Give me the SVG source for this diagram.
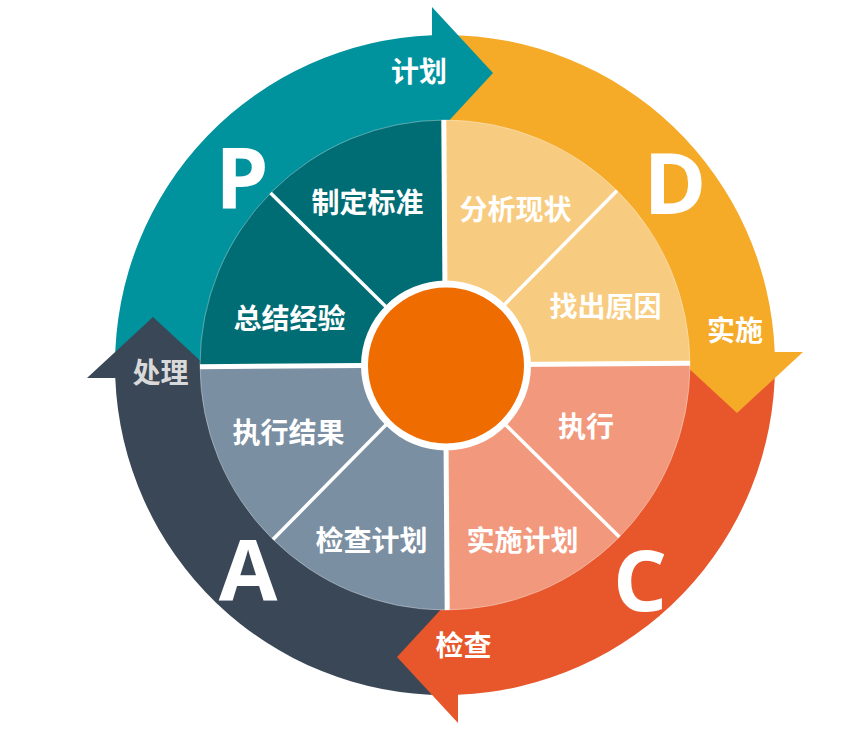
<svg xmlns="http://www.w3.org/2000/svg" width="857" height="735" viewBox="0 0 857 735">
<defs>
<style>
.t{font-family:"Noto Sans CJK SC","Noto Sans",sans-serif;font-weight:700;font-size:28px;fill:#fff;text-anchor:middle}
.big{font-family:"Open Sans","Noto Sans",sans-serif;font-weight:700;font-size:85px;fill:#fff;text-anchor:middle}
.sep{stroke:#fff;fill:none}
</style>
<path id="shaft" d="M -330 0 A 330 330 0 0 1 -13 -329.74 L -13 -239.65 A 240 240 0 0 0 -240 0 Z"/>
<path id="head" d="M -13 -358 L 48 -292 L -13 -226 Z"/>
<clipPath id="pieclip"><circle r="245"/></clipPath>
</defs>
<rect width="857" height="735" fill="#fff"/>
<g id="connectors" transform="translate(445,365)">
<use href="#shaft" fill="#00939E"/>
<use href="#shaft" fill="#F5AA28" transform="rotate(90)"/>
<use href="#shaft" fill="#E8562C" transform="rotate(180)"/>
<use href="#shaft" fill="#3A4756" transform="rotate(270)"/>
<use href="#head" fill="#00939E"/>
<use href="#head" fill="#F5AA28" transform="rotate(90)"/>
<use href="#head" fill="#E8562C" transform="rotate(180)"/>
<use href="#head" fill="#3A4756" transform="rotate(270)"/>
</g>
<g id="pie" transform="translate(445,365)">
<path d="M 0 0 L -245 0 A 245 245 0 0 1 0 -245 Z" fill="#006D74"/>
<path d="M 0 0 L 0 -245 A 245 245 0 0 1 245 0 Z" fill="#F8CC80"/>
<path d="M 0 0 L 245 0 A 245 245 0 0 1 0 245 Z" fill="#F2997D"/>
<path d="M 0 0 L 0 245 A 245 245 0 0 1 -245 0 Z" fill="#7B8FA3"/>
<circle r="245" fill="none" stroke="#fff" stroke-opacity="0.35" stroke-width="1"/>
<g clip-path="url(#pieclip)">
<g transform="rotate(-0.4)">
<line class="sep" x1="0.5" y1="-250" x2="0.5" y2="250" stroke-width="5"/>
<line class="sep" x1="-250" y1="0" x2="250" y2="0" stroke-width="5"/>
<line class="sep" x1="-180" y1="-180" x2="180" y2="180" stroke-width="3.5"/>
<line class="sep" x1="180" y1="-180" x2="-180" y2="180" stroke-width="3.5"/>
</g>
</g>
<circle cx="1" cy="0.5" r="85" fill="#fff"/>
<circle cx="1" cy="0.5" r="78" fill="#EE6C00"/>
</g>
<g id="node-P">
<text class="big" x="242" y="208">P</text>
<text class="t" x="419" y="82">计划</text>
<text class="t" x="367.5" y="213">制定标准</text>
<text class="t" x="289.5" y="329">总结经验</text>
</g>
<g id="node-D">
<text class="big" x="675" y="214">D</text>
<text class="t" x="735" y="341">实施</text>
<text class="t" x="515.5" y="220">分析现状</text>
<text class="t" x="605.5" y="316.5">找出原因</text>
</g>
<g id="node-C">
<text class="big" x="640" y="611">C</text>
<text class="t" x="463.5" y="656">检查</text>
<text class="t" x="586" y="436.5">执行</text>
<text class="t" x="522.5" y="550.5">实施计划</text>
</g>
<g id="node-A">
<text class="big" x="248" y="600">A</text>
<text class="t" x="160.5" y="383" style="fill:#D9D9D9">处理</text>
<text class="t" x="288.5" y="443">执行结果</text>
<text class="t" x="371.5" y="551">检查计划</text>
</g>
</svg>
